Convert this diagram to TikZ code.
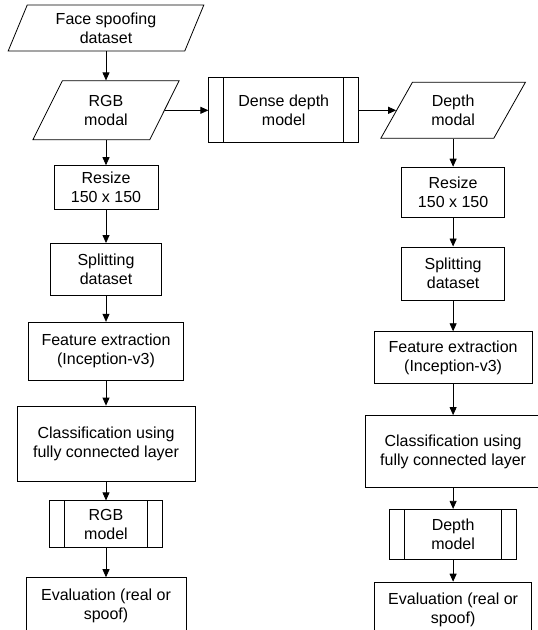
\documentclass[tikz,border=0pt]{standalone}
\usepackage{fontspec}
\setmainfont{Liberation Sans}
\usetikzlibrary{
    positioning,     % For placing nodes relative to each other
    shapes.geometric,% For the input/output parallelograms
    arrows.meta      % For the arrow tips
}

\begin{document}
\begin{tikzpicture}[
    x=1pt, y=1pt,
    % Common look of every block
    block/.style={
        draw, line width=0.8pt, align=center, inner sep=2pt,
        font=\fontsize{16}{19}\selectfont
    },
    % Plain process box (width, height)
    procbox/.style 2 args={
        block, rectangle, minimum width=#1, minimum height=#2
    },
    % Data parallelogram (left angle, right angle, width, height)
    iobox/.style n args={4}{
        block, trapezium, trapezium stretches=true,
        trapezium left angle=#1, trapezium right angle=#2,
        minimum width=#3, minimum height=#4
    },
    % Predefined process with two inner bars (width, height)
    predef/.style 2 args={
        block, rectangle, minimum width=#1, minimum height=#2,
        path picture={
            \draw[line width=0.8pt]
                ([xshift=15pt]path picture bounding box.north west) --
                ([xshift=15pt]path picture bounding box.south west)
                ([xshift=-15pt]path picture bounding box.north east) --
                ([xshift=-15pt]path picture bounding box.south east);
        }
    },
    % Style for the connectors
    flow/.style={
        -{Triangle[length=8pt, width=7pt]}, line width=0.8pt
    }
]
    \useasboundingbox (0,0) rectangle (538,-630);
    \clip (0,0) rectangle (538,-630);

    % 1. RGB branch on the left.
    \node[iobox={70}{110}{196}{46}] (face) at (106,-28) {Face spoofing\\dataset};
    \node[iobox={65}{115}{147}{59}, below=29pt of face] (rgb) {RGB\\modal};
    \node[procbox={104}{44}, below=25pt of rgb] (resizeL) {Resize\\150 x 150};
    \node[procbox={111}{52}, below=33pt of resizeL] (splitL) {Splitting\\dataset};
    \node[procbox={155}{58}, below=26pt of splitL] (featL) {Feature extraction\\(Inception-v3)};
    \node[procbox={178}{75}, below=25pt of featL] (classL) {Classification using\\fully connected layer};
    \node[predef={113}{47}, below=19pt of classL] (modelL) {RGB\\model};
    \node[procbox={160}{56}, below=29pt of modelL] (evalL) {Evaluation (real or\\spoof)};

    % 2. Depth estimation in the middle.
    \node[predef={150}{65}, right=43.5pt of rgb] (dense) {Dense depth\\model};

    % 3. Depth branch on the right.
    \node[iobox={62}{118}{145}{56}, right=37pt of dense] (depth) {Depth\\modal};
    \node[procbox={103}{50}, below=28pt of depth] (resizeR) {Resize\\150 x 150};
    \node[procbox={103}{53}, below=29pt of resizeR] (splitR) {Splitting\\dataset};
    \node[procbox={158}{52}, below=31pt of splitR] (featR) {Feature extraction\\(Inception-v3)};
    \node[procbox={176}{72}, below=31pt of featR] (classR) {Classification using\\fully connected layer};
    \node[predef={127}{50}, below=21pt of classR] (modelR) {Depth\\model};
    \node[procbox={157}{56}, below=22pt of modelR] (evalR) {Evaluation (real or\\spoof)};

    % 4. Connectors.
    \foreach \a/\b in {face/rgb, rgb/resizeL, resizeL/splitL, splitL/featL,
                       featL/classL, classL/modelL, modelL/evalL,
                       depth/resizeR, resizeR/splitR, splitR/featR,
                       featR/classR, classR/modelR, modelR/evalR}
        \draw[flow] (\a.south) -- (\b.north);
    \draw[flow] (rgb.east) -- (dense.west);
    \draw[flow] (dense.east) -- (depth.west);

\end{tikzpicture}
\end{document}
